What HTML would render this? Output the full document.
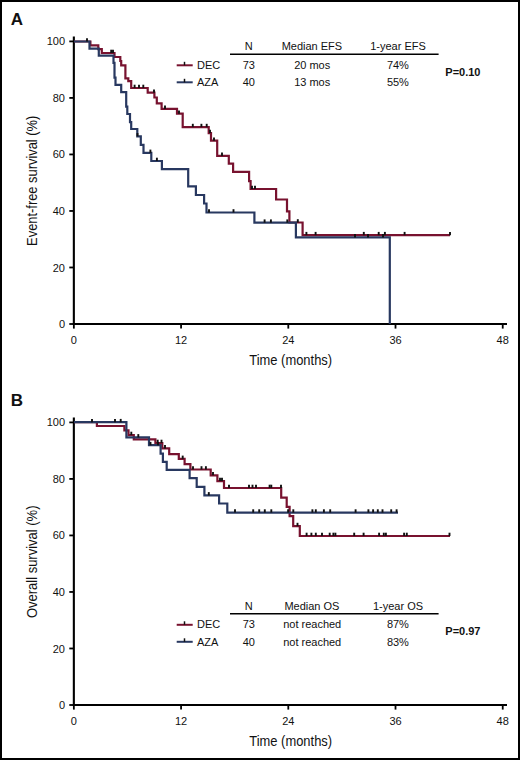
<!DOCTYPE html>
<html><head><meta charset="utf-8"><style>
html,body{margin:0;padding:0;background:#fff;}
#f{position:relative;width:520px;height:760px;overflow:hidden;background:#fff;}
#f svg{position:absolute;left:0;top:0;}
#b{position:absolute;left:0;top:0;width:520px;height:760px;box-sizing:border-box;border:2px solid #000;}
text{font-family:"Liberation Sans",sans-serif;fill:#111;}
</style></head><body><div id="f">
<svg width="520" height="760" viewBox="0 0 520 760">
<text x="10.8" y="25.1" font-size="17" font-weight="bold">A</text>
<line x1="73.85" y1="36.50" x2="73.85" y2="325.00" stroke="#000" stroke-width="2.1"/>
<line x1="72.8" y1="324.00" x2="507" y2="324.00" stroke="#000" stroke-width="2"/>
<line x1="69.3" y1="41.40" x2="74" y2="41.40" stroke="#000" stroke-width="1.8"/>
<text x="65" y="45.4" font-size="11" text-anchor="end">100</text>
<line x1="69.3" y1="97.92" x2="74" y2="97.92" stroke="#000" stroke-width="1.8"/>
<text x="65" y="101.9" font-size="11" text-anchor="end">80</text>
<line x1="69.3" y1="154.44" x2="74" y2="154.44" stroke="#000" stroke-width="1.8"/>
<text x="65" y="158.4" font-size="11" text-anchor="end">60</text>
<line x1="69.3" y1="210.96" x2="74" y2="210.96" stroke="#000" stroke-width="1.8"/>
<text x="65" y="215.0" font-size="11" text-anchor="end">40</text>
<line x1="69.3" y1="267.48" x2="74" y2="267.48" stroke="#000" stroke-width="1.8"/>
<text x="65" y="271.5" font-size="11" text-anchor="end">20</text>
<line x1="69.3" y1="324.00" x2="74" y2="324.00" stroke="#000" stroke-width="1.8"/>
<text x="65" y="328.0" font-size="11" text-anchor="end">0</text>
<line x1="73.85" y1="324.00" x2="73.85" y2="328.60" stroke="#000" stroke-width="1.8"/>
<text x="73.8" y="343.5" font-size="11" text-anchor="middle">0</text>
<line x1="181.07" y1="324.00" x2="181.07" y2="328.60" stroke="#000" stroke-width="1.8"/>
<text x="181.1" y="343.5" font-size="11" text-anchor="middle">12</text>
<line x1="288.29" y1="324.00" x2="288.29" y2="328.60" stroke="#000" stroke-width="1.8"/>
<text x="288.3" y="343.5" font-size="11" text-anchor="middle">24</text>
<line x1="395.51" y1="324.00" x2="395.51" y2="328.60" stroke="#000" stroke-width="1.8"/>
<text x="395.5" y="343.5" font-size="11" text-anchor="middle">36</text>
<line x1="502.73" y1="324.00" x2="502.73" y2="328.60" stroke="#000" stroke-width="1.8"/>
<text x="502.7" y="343.5" font-size="11" text-anchor="middle">48</text>
<text x="290.7" y="364.8" font-size="14" text-anchor="middle" textLength="82.8" lengthAdjust="spacingAndGlyphs">Time (months)</text>
<text transform="translate(37.2 180.8) rotate(-90)" font-size="14" text-anchor="middle" textLength="130.2" lengthAdjust="spacingAndGlyphs">Event-free survival (%)</text>
<path d="M74 41.5 H90.4 V45.4 H98.3 V49.2 H101.8 V53.0 H114.5 V57.0 H120.3 V61.0 H121.2 V65.3 H125.4 V78.3 H128.3 V81.2 H131.2 V88.0 H147.7 V92.7 H154.4 V97.5 H156.8 V103.3 H161.6 V108.9 H177 V113.7 H182.7 V127.1 H208.7 V133.1 H211 V140.7 H217.2 V155.9 H228.8 V163.6 H233.1 V171.9 H249.1 V181.1 H250.6 V189.0 H276.1 V199.5 H287 V211.4 H289.4 V222.5 H302.6 V235.2 H450" fill="none" stroke="#78122f" stroke-width="2.2" stroke-linejoin="miter"/>
<g stroke="#111" stroke-width="1.9"><line x1="111.2" y1="49.70" x2="111.2" y2="53.0"/><line x1="113" y1="49.70" x2="113" y2="53.0"/><line x1="134.6" y1="84.70" x2="134.6" y2="88.0"/><line x1="139" y1="84.70" x2="139" y2="88.0"/><line x1="143.3" y1="84.70" x2="143.3" y2="88.0"/><line x1="154" y1="89.40" x2="154" y2="92.7"/><line x1="165" y1="105.60" x2="165" y2="108.9"/><line x1="179" y1="110.40" x2="179" y2="113.7"/><line x1="192.8" y1="123.80" x2="192.8" y2="127.1"/><line x1="201.4" y1="123.80" x2="201.4" y2="127.1"/><line x1="206.7" y1="123.80" x2="206.7" y2="127.1"/><line x1="210" y1="129.80" x2="210" y2="133.1"/><line x1="214" y1="137.40" x2="214" y2="140.7"/><line x1="222" y1="152.60" x2="222" y2="155.9"/><line x1="252" y1="185.70" x2="252" y2="189.0"/><line x1="255" y1="185.70" x2="255" y2="189.0"/><line x1="297.8" y1="219.20" x2="297.8" y2="222.5"/><line x1="306.4" y1="231.90" x2="306.4" y2="235.2"/><line x1="315.6" y1="231.90" x2="315.6" y2="235.2"/><line x1="363.8" y1="231.90" x2="363.8" y2="235.2"/><line x1="378.7" y1="231.90" x2="378.7" y2="235.2"/><line x1="384.9" y1="231.90" x2="384.9" y2="235.2"/><line x1="404.6" y1="231.90" x2="404.6" y2="235.2"/><line x1="450" y1="231.90" x2="450" y2="235.2"/></g>
<path d="M74 41.5 H89.5 V48.7 H98.8 V55.6 H113.5 V62.8 H114.5 V77.6 H115.5 V84.8 H121.2 V92.1 H126.2 V106.7 H127.3 V114.0 H130 V122.1 H131.2 V129.0 H137.3 V136.4 H140.8 V144.8 H143.5 V152.9 H151.3 V161.0 H161.9 V169.2 H188.2 V186.4 H195.9 V195.0 H204.1 V203.5 H206.5 V212.5 H254.4 V222.7 H295.9 V237.4 H389.8 V324.0 H389.8" fill="none" stroke="#283860" stroke-width="2.2" stroke-linejoin="miter"/>
<g stroke="#111" stroke-width="1.9"><line x1="87" y1="38.20" x2="87" y2="41.5"/><line x1="137.5" y1="133.10" x2="137.5" y2="136.4"/><line x1="150.4" y1="149.60" x2="150.4" y2="152.9"/><line x1="156.9" y1="157.70" x2="156.9" y2="161.0"/><line x1="209" y1="209.20" x2="209" y2="212.5"/><line x1="233.5" y1="209.20" x2="233.5" y2="212.5"/><line x1="264.6" y1="219.40" x2="264.6" y2="222.7"/><line x1="270.9" y1="219.40" x2="270.9" y2="222.7"/><line x1="287.3" y1="219.40" x2="287.3" y2="222.7"/><line x1="355" y1="234.10" x2="355" y2="237.4"/><line x1="368" y1="234.10" x2="368" y2="237.4"/><line x1="383" y1="234.10" x2="383" y2="237.4"/></g>
<text x="248.8" y="50.4" font-size="11" text-anchor="middle">N</text>
<text x="311.9" y="50.4" font-size="11" text-anchor="middle">Median EFS</text>
<text x="398" y="50.4" font-size="11" text-anchor="middle">1-year EFS</text>
<line x1="230" y1="54.2" x2="438.6" y2="54.2" stroke="#000" stroke-width="1.6"/>
<line x1="176.7" y1="65.3" x2="192.7" y2="65.3" stroke="#78122f" stroke-width="2"/>
<line x1="184.5" y1="61.8" x2="184.5" y2="65.3" stroke="#111" stroke-width="1.5"/>
<text x="197" y="68.6" font-size="11">DEC</text>
<text x="248.8" y="68.6" font-size="11" text-anchor="middle">73</text>
<text x="312.2" y="68.6" font-size="11" text-anchor="middle">20 mos</text>
<text x="397.9" y="68.6" font-size="11" text-anchor="middle">74%</text>
<line x1="176.7" y1="82.3" x2="192.7" y2="82.3" stroke="#283860" stroke-width="2"/>
<line x1="184.5" y1="78.8" x2="184.5" y2="82.3" stroke="#111" stroke-width="1.5"/>
<text x="197" y="86.0" font-size="11">AZA</text>
<text x="248.8" y="86.0" font-size="11" text-anchor="middle">40</text>
<text x="312.2" y="86.0" font-size="11" text-anchor="middle">13 mos</text>
<text x="397.9" y="86.0" font-size="11" text-anchor="middle">55%</text>
<text x="445.3" y="75.9" font-size="11" font-weight="bold">P=0.10</text>
<text x="10.8" y="405.90000000000003" font-size="17" font-weight="bold">B</text>
<line x1="73.85" y1="417.50" x2="73.85" y2="706.00" stroke="#000" stroke-width="2.1"/>
<line x1="72.8" y1="705.00" x2="507" y2="705.00" stroke="#000" stroke-width="2"/>
<line x1="69.3" y1="422.40" x2="74" y2="422.40" stroke="#000" stroke-width="1.8"/>
<text x="65" y="426.4" font-size="11" text-anchor="end">100</text>
<line x1="69.3" y1="478.92" x2="74" y2="478.92" stroke="#000" stroke-width="1.8"/>
<text x="65" y="482.9" font-size="11" text-anchor="end">80</text>
<line x1="69.3" y1="535.44" x2="74" y2="535.44" stroke="#000" stroke-width="1.8"/>
<text x="65" y="539.4" font-size="11" text-anchor="end">60</text>
<line x1="69.3" y1="591.96" x2="74" y2="591.96" stroke="#000" stroke-width="1.8"/>
<text x="65" y="596.0" font-size="11" text-anchor="end">40</text>
<line x1="69.3" y1="648.48" x2="74" y2="648.48" stroke="#000" stroke-width="1.8"/>
<text x="65" y="652.5" font-size="11" text-anchor="end">20</text>
<line x1="69.3" y1="705.00" x2="74" y2="705.00" stroke="#000" stroke-width="1.8"/>
<text x="65" y="709.0" font-size="11" text-anchor="end">0</text>
<line x1="73.85" y1="705.00" x2="73.85" y2="709.60" stroke="#000" stroke-width="1.8"/>
<text x="73.8" y="724.5" font-size="11" text-anchor="middle">0</text>
<line x1="181.07" y1="705.00" x2="181.07" y2="709.60" stroke="#000" stroke-width="1.8"/>
<text x="181.1" y="724.5" font-size="11" text-anchor="middle">12</text>
<line x1="288.29" y1="705.00" x2="288.29" y2="709.60" stroke="#000" stroke-width="1.8"/>
<text x="288.3" y="724.5" font-size="11" text-anchor="middle">24</text>
<line x1="395.51" y1="705.00" x2="395.51" y2="709.60" stroke="#000" stroke-width="1.8"/>
<text x="395.5" y="724.5" font-size="11" text-anchor="middle">36</text>
<line x1="502.73" y1="705.00" x2="502.73" y2="709.60" stroke="#000" stroke-width="1.8"/>
<text x="502.7" y="724.5" font-size="11" text-anchor="middle">48</text>
<text x="290.7" y="745.8" font-size="14" text-anchor="middle" textLength="82.8" lengthAdjust="spacingAndGlyphs">Time (months)</text>
<text transform="translate(37.2 561.8) rotate(-90)" font-size="14" text-anchor="middle" textLength="112.6" lengthAdjust="spacingAndGlyphs">Overall survival (%)</text>
<path d="M74 422.2 H96.9 V426.0 H124.4 V430.4 H128.5 V435.0 H133.8 V439.4 H155.4 V443.0 H162.3 V448.4 H169.2 V454.2 H178.8 V458.9 H184.6 V464.2 H190.4 V469.5 H210.7 V475.3 H217.4 V481.1 H224.0 V488.0 H281.2 V497.7 H286.7 V506.9 H289.6 V516.1 H293.2 V526.1 H299.8 V536.0 H450" fill="none" stroke="#78122f" stroke-width="2.2" stroke-linejoin="miter"/>
<g stroke="#111" stroke-width="1.9"><line x1="131.3" y1="431.70" x2="131.3" y2="435.0"/><line x1="157.7" y1="439.70" x2="157.7" y2="443.0"/><line x1="161.5" y1="439.70" x2="161.5" y2="443.0"/><line x1="165" y1="445.10" x2="165" y2="448.4"/><line x1="182.7" y1="455.60" x2="182.7" y2="458.9"/><line x1="193" y1="466.20" x2="193" y2="469.5"/><line x1="201.5" y1="466.20" x2="201.5" y2="469.5"/><line x1="205.9" y1="466.20" x2="205.9" y2="469.5"/><line x1="213" y1="472.00" x2="213" y2="475.3"/><line x1="220" y1="477.80" x2="220" y2="481.1"/><line x1="222" y1="477.80" x2="222" y2="481.1"/><line x1="229" y1="484.70" x2="229" y2="488.0"/><line x1="249" y1="484.70" x2="249" y2="488.0"/><line x1="252.5" y1="484.70" x2="252.5" y2="488.0"/><line x1="256" y1="484.70" x2="256" y2="488.0"/><line x1="269.6" y1="484.70" x2="269.6" y2="488.0"/><line x1="271.3" y1="484.70" x2="271.3" y2="488.0"/><line x1="281" y1="484.70" x2="281" y2="488.0"/><line x1="297.5" y1="522.80" x2="297.5" y2="526.1"/><line x1="306.6" y1="532.70" x2="306.6" y2="536.0"/><line x1="311.4" y1="532.70" x2="311.4" y2="536.0"/><line x1="315.8" y1="532.70" x2="315.8" y2="536.0"/><line x1="322" y1="532.70" x2="322" y2="536.0"/><line x1="329.7" y1="532.70" x2="329.7" y2="536.0"/><line x1="333.4" y1="532.70" x2="333.4" y2="536.0"/><line x1="335.4" y1="532.70" x2="335.4" y2="536.0"/><line x1="354.2" y1="532.70" x2="354.2" y2="536.0"/><line x1="363.6" y1="532.70" x2="363.6" y2="536.0"/><line x1="379.1" y1="532.70" x2="379.1" y2="536.0"/><line x1="383.8" y1="532.70" x2="383.8" y2="536.0"/><line x1="385.9" y1="532.70" x2="385.9" y2="536.0"/><line x1="404.1" y1="532.70" x2="404.1" y2="536.0"/><line x1="406.8" y1="532.70" x2="406.8" y2="536.0"/><line x1="449.5" y1="532.70" x2="449.5" y2="536.0"/></g>
<path d="M74 422.2 H126.4 V437.4 H149.0 V445.2 H160.6 V453.6 H162.9 V461.8 H166.7 V469.8 H189.6 V478.2 H196.7 V486.8 H204.4 V495.4 H219.1 V503.5 H227.3 V512.6 H398" fill="none" stroke="#283860" stroke-width="2.2" stroke-linejoin="miter"/>
<g stroke="#111" stroke-width="1.9"><line x1="92" y1="418.90" x2="92" y2="422.2"/><line x1="115" y1="418.90" x2="115" y2="422.2"/><line x1="120.7" y1="418.90" x2="120.7" y2="422.2"/><line x1="138.3" y1="434.10" x2="138.3" y2="437.4"/><line x1="150.5" y1="441.90" x2="150.5" y2="445.2"/><line x1="158" y1="441.90" x2="158" y2="445.2"/><line x1="208.8" y1="492.10" x2="208.8" y2="495.4"/><line x1="235" y1="509.30" x2="235" y2="512.6"/><line x1="253.2" y1="509.30" x2="253.2" y2="512.6"/><line x1="259.2" y1="509.30" x2="259.2" y2="512.6"/><line x1="264.8" y1="509.30" x2="264.8" y2="512.6"/><line x1="271.3" y1="509.30" x2="271.3" y2="512.6"/><line x1="288.1" y1="509.30" x2="288.1" y2="512.6"/><line x1="293.3" y1="509.30" x2="293.3" y2="512.6"/><line x1="312.4" y1="509.30" x2="312.4" y2="512.6"/><line x1="315.8" y1="509.30" x2="315.8" y2="512.6"/><line x1="323.9" y1="509.30" x2="323.9" y2="512.6"/><line x1="330.2" y1="509.30" x2="330.2" y2="512.6"/><line x1="355.6" y1="509.30" x2="355.6" y2="512.6"/><line x1="368.4" y1="509.30" x2="368.4" y2="512.6"/><line x1="373.1" y1="509.30" x2="373.1" y2="512.6"/><line x1="377.8" y1="509.30" x2="377.8" y2="512.6"/><line x1="382.5" y1="509.30" x2="382.5" y2="512.6"/><line x1="391.2" y1="509.30" x2="391.2" y2="512.6"/><line x1="396.6" y1="509.30" x2="396.6" y2="512.6"/></g>
<text x="248.8" y="609.9" font-size="11" text-anchor="middle">N</text>
<text x="311.9" y="609.9" font-size="11" text-anchor="middle">Median OS</text>
<text x="398" y="609.9" font-size="11" text-anchor="middle">1-year OS</text>
<line x1="230" y1="613.7" x2="438.6" y2="613.7" stroke="#000" stroke-width="1.6"/>
<line x1="176.7" y1="624.8" x2="192.7" y2="624.8" stroke="#78122f" stroke-width="2"/>
<line x1="184.5" y1="621.3" x2="184.5" y2="624.8" stroke="#111" stroke-width="1.5"/>
<text x="197" y="628.1" font-size="11">DEC</text>
<text x="248.8" y="628.1" font-size="11" text-anchor="middle">73</text>
<text x="312.2" y="628.1" font-size="11" text-anchor="middle">not reached</text>
<text x="397.9" y="628.1" font-size="11" text-anchor="middle">87%</text>
<line x1="176.7" y1="641.8" x2="192.7" y2="641.8" stroke="#283860" stroke-width="2"/>
<line x1="184.5" y1="638.3" x2="184.5" y2="641.8" stroke="#111" stroke-width="1.5"/>
<text x="197" y="645.5" font-size="11">AZA</text>
<text x="248.8" y="645.5" font-size="11" text-anchor="middle">40</text>
<text x="312.2" y="645.5" font-size="11" text-anchor="middle">not reached</text>
<text x="397.9" y="645.5" font-size="11" text-anchor="middle">83%</text>
<text x="445.3" y="635.4" font-size="11" font-weight="bold">P=0.97</text>
</svg><div id="b"></div></div></body></html>
